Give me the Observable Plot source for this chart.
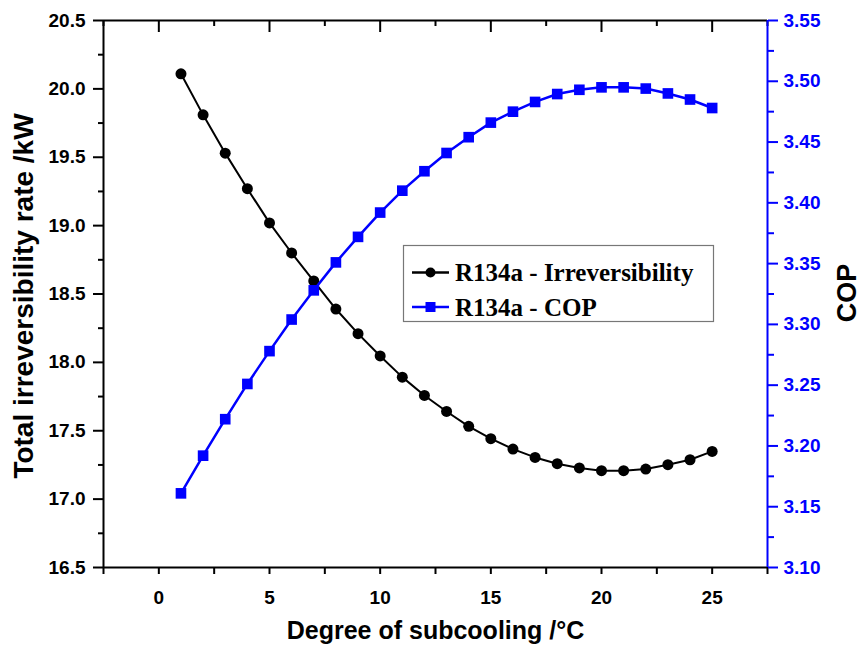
<!DOCTYPE html>
<html>
<head>
<meta charset="utf-8">
<script src="https://cdn.jsdelivr.net/npm/d3@7"></script>
<script src="https://cdn.jsdelivr.net/npm/@observablehq/plot@0.6"></script>
<style>
  html, body { margin: 0; padding: 0; background: #fff; }
</style>
</head>
<body>
<div id="chart"></div>
<script>
// ---- data ----
const subcooling = [1,2,3,4,5,6,7,8,9,10,11,12,13,14,15,16,17,18,19,20,21,22,23,24,25];
const irreversibility = [20.11, 19.81, 19.53, 19.27, 19.02, 18.80, 18.595, 18.39, 18.21, 18.047,
  17.892, 17.758, 17.641, 17.532, 17.442, 17.366, 17.305, 17.259, 17.228, 17.208,
  17.208, 17.22, 17.252, 17.288, 17.349];
const cop = [3.161, 3.192, 3.222, 3.251, 3.278, 3.304, 3.328, 3.351, 3.372, 3.392,
  3.410, 3.426, 3.441, 3.454, 3.466, 3.475, 3.483, 3.4895, 3.493, 3.495,
  3.495, 3.494, 3.490, 3.485, 3.478];

const xDomain = [-2.5, 27.5];
const leftDomain = [16.5, 20.5];
const rightDomain = [3.10, 3.55];
const xMajorTicks = [0, 5, 10, 15, 20, 25];
const xMinorTicks = [-2.5, 2.5, 7.5, 12.5, 17.5, 22.5, 27.5];
const leftMajorTicks = [16.5, 17.0, 17.5, 18.0, 18.5, 19.0, 19.5, 20.0, 20.5];
const leftMinorTicks = [16.75, 17.25, 17.75, 18.25, 18.75, 19.25, 19.75, 20.25];
const rightMajorTicks = [3.10, 3.15, 3.20, 3.25, 3.30, 3.35, 3.40, 3.45, 3.50, 3.55];
const rightMinorTicks = [3.125, 3.175, 3.225, 3.275, 3.325, 3.375, 3.425, 3.475, 3.525];

const seriesNames = ["R134a - Irreversibility", "R134a - COP"];
const xLabel = "Degree of subcooling /°C";
const yLabel = "Total irreversibility rate /kW";
const y2Label = "COP";

// map right-axis (COP) values onto the left y scale
const toLeft = c => leftDomain[0] + (c - rightDomain[0]) / (rightDomain[1] - rightDomain[0]) * (leftDomain[1] - leftDomain[0]);
const fromLeft = v => rightDomain[0] + (v - leftDomain[0]) / (leftDomain[1] - leftDomain[0]) * (rightDomain[1] - rightDomain[0]);

const irrData = subcooling.map((s, i) => ({x: s, y: irreversibility[i]}));
const copData = subcooling.map((s, i) => ({x: s, y: toLeft(cop[i])}));

const BLUE = "#0000ff";
const W = 862, H = 648;
const mL = 103, mR = 95, mT = 20, mB = 81;
const innerH = H - mT - mB;

const plot = Plot.plot({
  width: W,
  height: H,
  marginLeft: mL,
  marginRight: mR,
  marginTop: mT,
  marginBottom: mB,
  x: {domain: xDomain},
  y: {domain: leftDomain},
  style: {
    fontFamily: "'Liberation Sans', Arial, sans-serif",
    fontSize: "19px",
    fontWeight: "bold",
    background: "#fff",
    color: "#000"
  },
  marks: [
    // bottom axis
    Plot.axisX(xMajorTicks, {anchor: "bottom", tickSize: 7, tickPadding: 16, strokeWidth: 2, label: null, tickFormat: d => String(d)}),
    Plot.axisX(xMinorTicks, {anchor: "bottom", tickSize: 7, strokeWidth: 2, label: null, tickFormat: () => ""}),
    // top ticks (inward)
    Plot.tickX(xMajorTicks, {x: d => d, stroke: "#000", strokeWidth: 2, insetBottom: innerH - 12}),
    Plot.tickX(xMinorTicks, {x: d => d, stroke: "#000", strokeWidth: 2, insetBottom: innerH - 6}),
    // left axis
    Plot.axisY(leftMajorTicks, {anchor: "left", tickSize: 10, tickPadding: 8, strokeWidth: 2, label: null, tickFormat: d => d.toFixed(1)}),
    Plot.axisY(leftMinorTicks, {anchor: "left", tickSize: 5, strokeWidth: 2, label: null, tickFormat: () => ""}),
    // right axis (COP)
    Plot.axisY(rightMajorTicks.map(toLeft), {anchor: "right", tickSize: 10, tickPadding: 6, strokeWidth: 2, color: BLUE, label: null, tickFormat: d => fromLeft(d).toFixed(2)}),
    Plot.axisY(rightMinorTicks.map(toLeft), {anchor: "right", tickSize: 6, strokeWidth: 2, color: BLUE, label: null, tickFormat: () => ""}),
    // frame lines
    Plot.ruleY([leftDomain[0], leftDomain[1]], {stroke: "#000", strokeWidth: 2}),
    Plot.ruleX([xDomain[0]], {stroke: "#000", strokeWidth: 2}),
    Plot.ruleX([xDomain[1]], {stroke: BLUE, strokeWidth: 2}),
    // series
    Plot.line(irrData, {x: "x", y: "y", stroke: "#000", strokeWidth: 2}),
    Plot.dot(irrData, {x: "x", y: "y", r: 5.5, fill: "#000", stroke: "none"}),
    Plot.line(copData, {x: "x", y: "y", stroke: BLUE, strokeWidth: 2.5}),
    Plot.dot(copData, {x: "x", y: "y", r: 6, symbol: "square", fill: BLUE, stroke: "none"}),
    // axis titles
    Plot.text([xLabel], {text: d => d, frameAnchor: "bottom", dy: 71, fontSize: 25, fontWeight: "bold", lineAnchor: "bottom", textAnchor: "middle", fill: "#000"}),
    Plot.text([yLabel], {text: d => d, frameAnchor: "left", dx: -79, dy: 2, rotate: -90, fontSize: 28, fontWeight: "bold", textAnchor: "middle", lineAnchor: "middle", fill: "#000"}),
    Plot.text([y2Label], {text: d => d, frameAnchor: "right", dx: 80, dy: -1, rotate: -90, fontSize: 27, fontWeight: "bold", textAnchor: "middle", lineAnchor: "middle", fill: "#000"})
  ]
});

document.getElementById("chart").appendChild(plot);

// legend (inside plot area)
const svg = d3.select(plot);
const lg = svg.append("g").attr("class", "legend").attr("text-anchor", "start");
lg.append("rect")
  .attr("x", 403.5).attr("y", 245.5).attr("width", 310).attr("height", 76)
  .attr("fill", "#fff").attr("stroke", "#777").attr("stroke-width", 1.2);
const items = [
  {name: seriesNames[0], color: "#000", shape: "circle", y: 272.5},
  {name: seriesNames[1], color: BLUE, shape: "square", y: 307}
];
items.forEach(it => {
  lg.append("line").attr("x1", 412).attr("x2", 449).attr("y1", it.y).attr("y2", it.y)
    .attr("stroke", it.color).attr("stroke-width", 2.5);
  if (it.shape === "circle") {
    lg.append("circle").attr("cx", 430.5).attr("cy", it.y).attr("r", 5).attr("fill", it.color);
  } else {
    lg.append("rect").attr("x", 425.5).attr("y", it.y - 5).attr("width", 10).attr("height", 10).attr("fill", it.color);
  }
  lg.append("text").attr("x", 455).attr("y", it.y + 8.5)
    .attr("text-anchor", "start")
    .attr("font-family", "'Liberation Serif', 'Times New Roman', serif")
    .attr("font-size", 25).attr("font-weight", "bold").attr("fill", "#000")
    .text(it.name);
});
</script>
</body>
</html>
